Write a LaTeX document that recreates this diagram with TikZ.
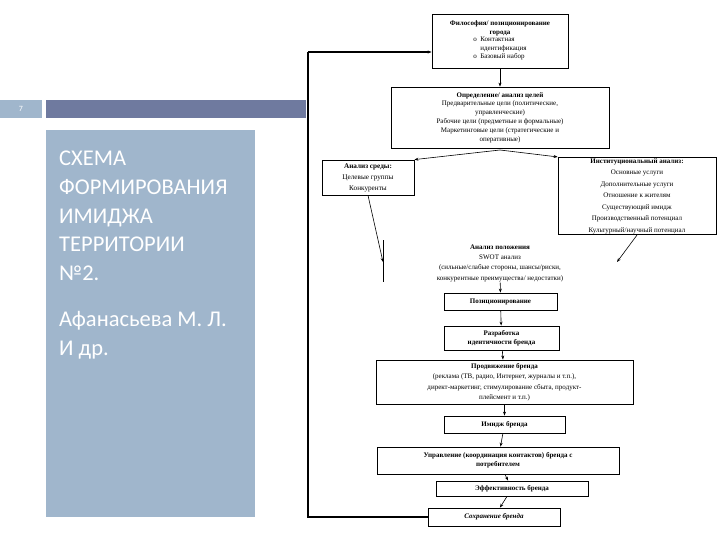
\documentclass[tikz,border=0pt]{standalone}
\usepackage{fontspec}
\setmainfont{Liberation Serif}
\newfontfamily\slidefont{Carlito}
\usetikzlibrary{arrows.meta}
\definecolor{panel}{HTML}{A0B6CC}
\definecolor{barc}{HTML}{6F7A9F}
\begin{document}
\begin{tikzpicture}[x=1pt,y=-1pt,
  bx/.style={draw=black,line width=0.8pt,fill=white,inner sep=1pt,align=center,font=\fontsize{7}{8.8}\selectfont},
  ar/.style={-{Stealth[length=4pt,width=3pt]},line width=0.6pt},
  st/.style={white,anchor=north west,align=left,inner sep=0pt,font=\slidefont\fontsize{22.5}{28.7}\selectfont}]
\useasboundingbox (0,0) rectangle (720,540);
\fill[panel] (0,100) rectangle (42,118);
\node[white,font=\slidefont\fontsize{8}{9}\selectfont] (num) at (21,109) {7};
\fill[barc] (46,100) rectangle (306,118);
\fill[panel] (46,130) rectangle (255,517);
\node[st] (title) at (59,151) {СХЕМА\\ФОРМИРОВАНИЯ\\ИМИДЖА\\ТЕРРИТОРИИ\\№2.};
\node[st] (auth) at (59,311) {Афанасьева М. Л.\\И др.};

\node[bx,minimum width=136,minimum height=54,font=\fontsize{7}{8.6}\selectfont] (phil) at (500,41) {\textbf{Философия/ позиционирование}\\\textbf{города}\\[-1pt]
\begin{tabular}{@{}l@{\ \ }l@{}}o & Контактная\\ & идентификация\\ o & Базовый набор\end{tabular}};
\node[bx,minimum width=218,minimum height=61] (goal) at (500,117.5) {\textbf{Определение/ анализ целей}\\Предварительные цели (политические,\\управленческие)\\Рабочие цели (предметные и формальные)\\Маркетинговые цели (стратегические и\\оперативные)};
\node[bx,minimum width=92,minimum height=35,font=\fontsize{7.2}{11}\selectfont] (env) at (368,177.5) {\textbf{Анализ среды:}\\Целевые группы\\Конкуренты};
\node[bx,minimum width=158,minimum height=72,font=\fontsize{7}{11.5}\selectfont] (inst) at (637,196) {\textbf{Институциональный анализ:}\\Основные услуги\\Дополнительные услуги\\Отношение к жителям\\Существующий имидж\\Производственный потенциал\\Культурный/научный потенциал};
\node[align=center,font=\fontsize{7}{10.3}\selectfont,inner sep=1pt] (swot) at (500,263) {\textbf{Анализ положения}\\SWOT анализ\\(сильные/слабые стороны, шансы/риски,\\конкурентные преимущества/ недостатки)};
\node[bx,minimum width=113,minimum height=17] (pos) at (500.5,301.5) {\textbf{Позиционирование}};
\node[bx,minimum width=115,minimum height=24] (dev) at (501.5,338) {\textbf{Разработка}\\\textbf{идентичности бренда}};
\node[bx,minimum width=257,minimum height=44,font=\fontsize{7}{10.5}\selectfont] (prom) at (504.5,382) {\textbf{Продвижение бренда}\\(реклама (ТВ, радио, Интернет, журналы и т.п.),\\директ-маркетинг, стимулирование сбыта, продукт-\\плейсмент и т.п.)};
\node[bx,minimum width=121,minimum height=17] (img) at (504.5,424.5) {\textbf{Имидж бренда}};
\node[bx,minimum width=242,minimum height=27] (man) at (498,460.5) {\textbf{Управление (координация контактов) бренда с}\\\textbf{потребителем}};
\node[bx,minimum width=152,minimum height=15] (eff) at (512,488.5) {\textbf{Эффективность бренда}};
\node[bx,minimum width=132,minimum height=18] (keep) at (494,517) {\textbf{\textit{Сохранение бренда}}};

\coordinate (fb1) at (308,517);
\coordinate (fb2) at (308,52);
\coordinate (split) at (500,150);
\coordinate (m1) at (383,240);
\coordinate (m2) at (383,282);
\draw[line width=1.2pt] (keep.west) -- (fb1) -- (fb2);
\draw[ar,line width=1.2pt] (fb2) -- (phil.west|-fb2);
\draw[ar] (phil) -- (goal);
\draw[ar] (split) -- (env.north east);
\draw[ar] (split) -- (inst.north west);
\draw[ar] (env.south) -- (383,262);
\draw[line width=0.6pt] (m1) -- (m2);
\draw[ar] (inst.south) -- (617,262);
\draw[ar] (swot) -- (pos);
\draw[ar] (pos) -- (dev);
\draw[ar] (dev) -- (prom);
\draw[ar] (prom) -- (img);
\draw[ar] (img) -- (man);
\draw[ar] (man) -- (eff);
\draw[ar] (eff) -- (keep);
\end{tikzpicture}
\end{document}
